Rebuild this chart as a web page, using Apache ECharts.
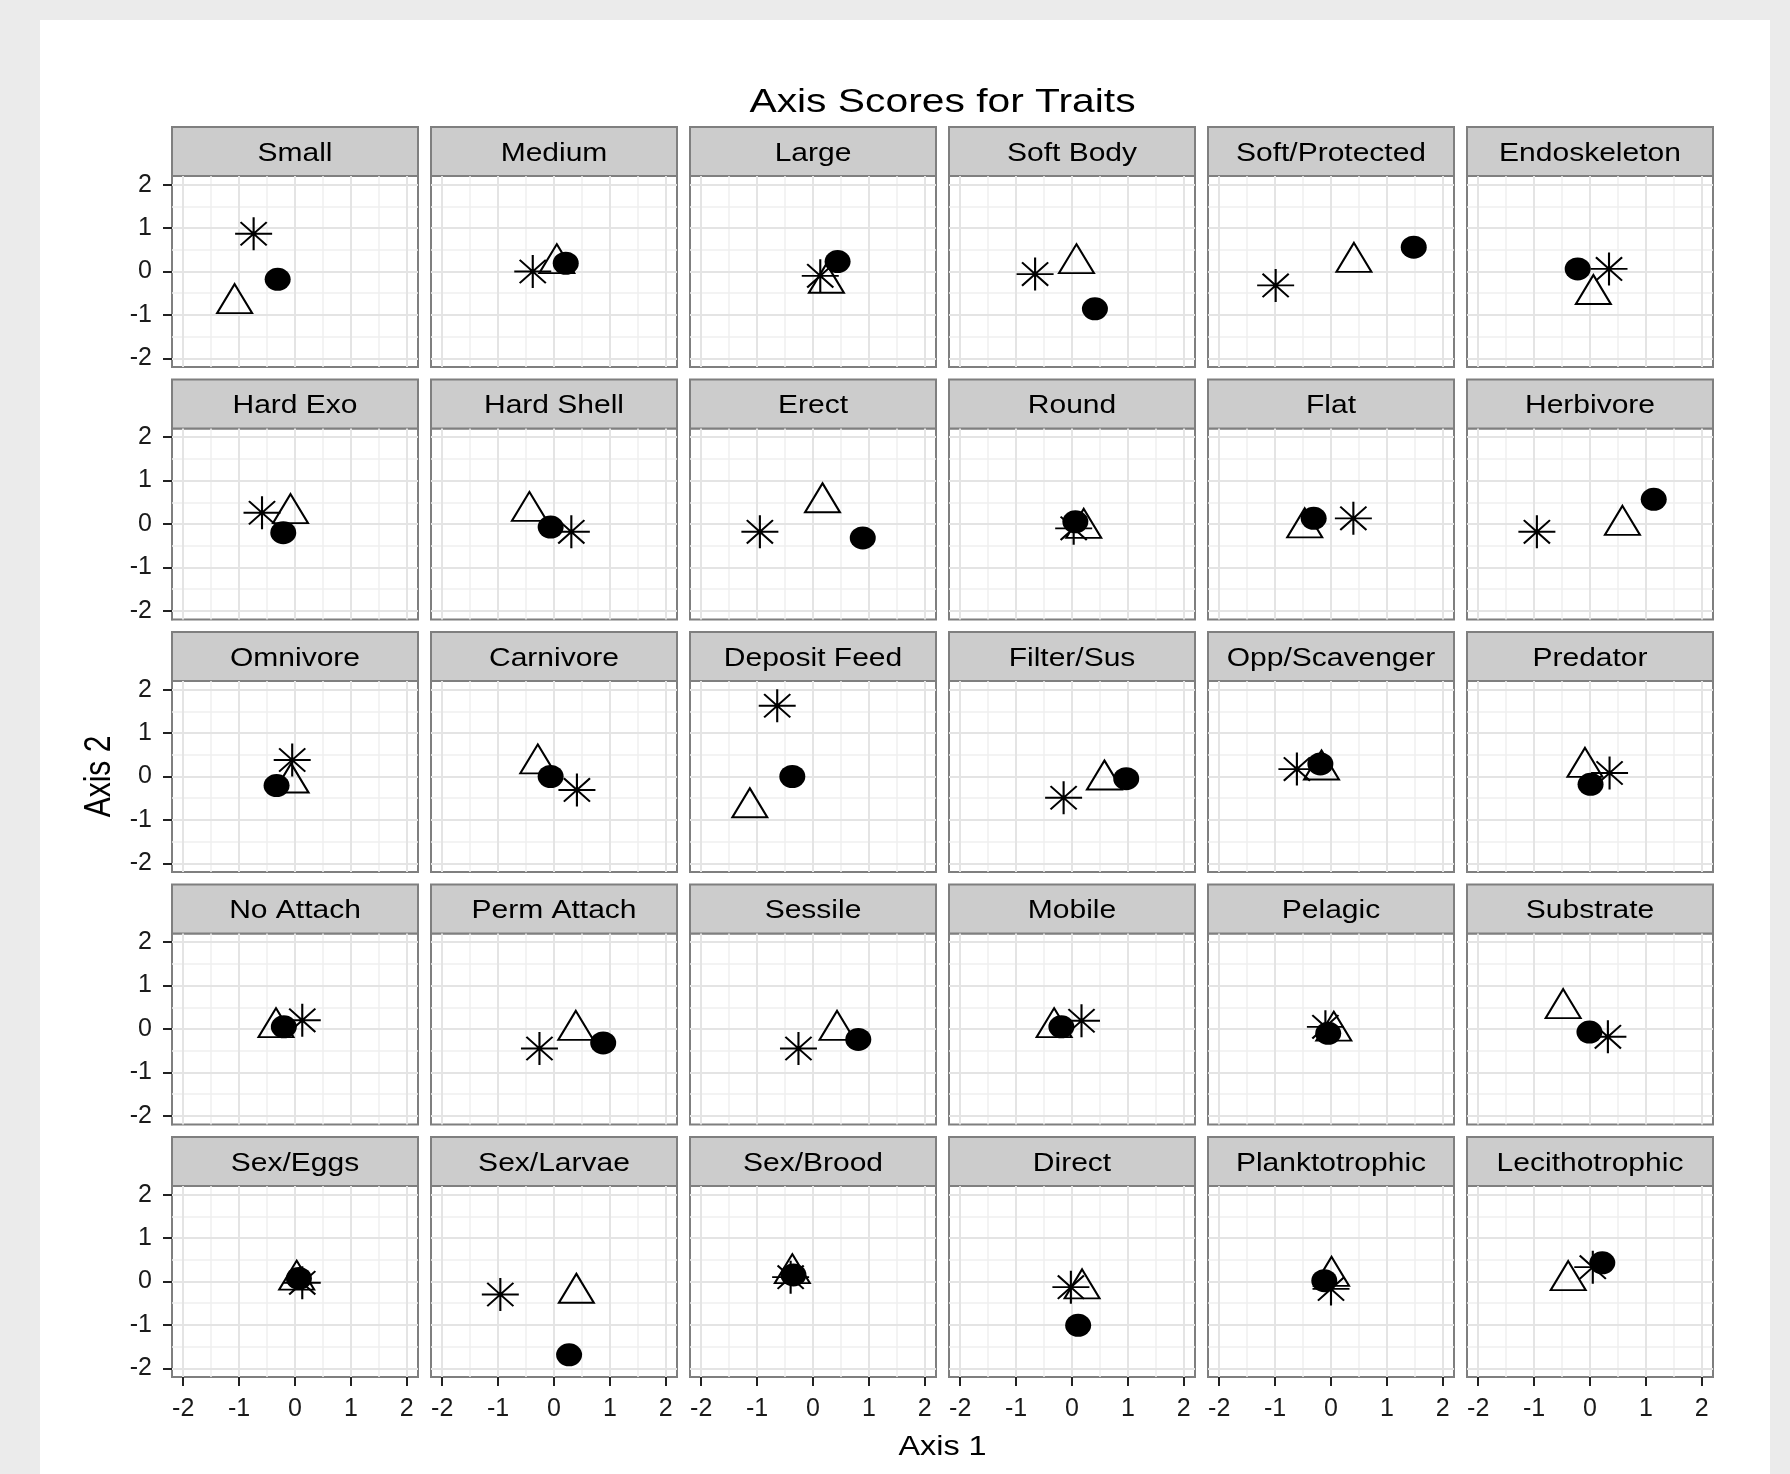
<!DOCTYPE html>
<html>
<head>
<meta charset="utf-8">
<title>Axis Scores for Traits</title>
<script src="https://cdn.jsdelivr.net/npm/echarts@6/dist/echarts.min.js"></script>
<style>
  html, body { margin: 0; padding: 0; background: #ebebeb; }
  #chart { width: 1790px; height: 1474px; }
</style>
</head>
<body>
<div id="chart"></div>
<script>
// Trait facets, in reading order (6 per row)
const panelNames = [
  'Small', 'Medium', 'Large', 'Soft Body', 'Soft/Protected', 'Endoskeleton',
  'Hard Exo', 'Hard Shell', 'Erect', 'Round', 'Flat', 'Herbivore',
  'Omnivore', 'Carnivore', 'Deposit Feed', 'Filter/Sus', 'Opp/Scavenger', 'Predator',
  'No Attach', 'Perm Attach', 'Sessile', 'Mobile', 'Pelagic', 'Substrate',
  'Sex/Eggs', 'Sex/Larvae', 'Sex/Brood', 'Direct', 'Planktotrophic', 'Lecithotrophic'
];

// Axis 1 / Axis 2 scores of the three groups for each trait
const starX = [-0.74, -0.38, 0.13, -0.66, -0.99, 0.34,  -0.59, 0.31, -0.95, 0.03, 0.40, -0.95,
               -0.05, 0.41, -0.64, -0.15, -0.61, 0.35,   0.13, -0.26, -0.26, 0.17, -0.10, 0.32,
                0.13, -0.96, -0.40, -0.02, 0.00, 0.05];
const starY = [0.87, 0.00, -0.10, -0.06, -0.32, 0.06,   0.26, -0.18, -0.18, -0.10, 0.13, -0.18,
               0.38, -0.31, 1.63, -0.49, 0.17, 0.08,    0.20, -0.45, -0.45, 0.19, 0.05, -0.18,
              -0.03, -0.30, 0.10, -0.13, -0.17, 0.33];
const triangleX = [-1.08, 0.05, 0.24, 0.08, 0.41, 0.06,  -0.08, -0.44, 0.17, 0.21, -0.47, 0.58,
                   -0.07, -0.29, -1.13, 0.58, -0.17, -0.09, -0.34, 0.39, 0.43, -0.32, 0.05, -0.48,
                    0.03, 0.40, -0.37, 0.18, 0.01, -0.39];
const triangleY = [-0.74, 0.18, -0.27, 0.18, 0.21, -0.53, 0.24, 0.29, 0.49, -0.10, -0.09, -0.03,
                   -0.15, 0.29, -0.72, -0.08, 0.15, 0.21,  0.03, -0.03, -0.03, 0.03, -0.05, 0.47,
                    0.03, -0.27, 0.18, -0.17, 0.12, 0.02];
const dotX = [-0.31, 0.21, 0.44, 0.41, 1.48, -0.22,  -0.21, -0.06, 0.89, 0.06, -0.31, 1.14,
              -0.33, -0.06, -0.37, 0.97, -0.19, 0.01,  -0.20, 0.88, 0.81, -0.19, -0.05, -0.01,
               0.07, 0.27, -0.35, 0.11, -0.12, 0.22];
const dotY = [-0.18, 0.19, 0.23, -0.86, 0.56, 0.06,   -0.20, -0.07, -0.32, 0.05, 0.13, 0.57,
              -0.21, 0.00, 0.00, -0.05, 0.29, -0.18,   0.05, -0.32, -0.24, 0.05, -0.10, -0.07,
               0.07, -1.69, 0.15, -1.01, 0.02, 0.43];

// Axis breaks and limits shared by every facet
const tickValues = [-2, -1, 0, 1, 2];
const minorValues = [-1.5, -0.5, 0.5, 1.5];
const axisLimits = [-2.2, 2.2];

const chartTitle = 'Axis Scores for Traits';
const xTitle = 'Axis 1';
const yTitle = 'Axis 2';

// ---- layout ----
const COLS = 6;
const ROWS = Math.ceil(panelNames.length / COLS);
const PANEL_W = 246, PANEL_H = 191, STRIP_H = 49;
const LEFT0 = 172, TOP0 = 176, COL_STEP = 259, ROW_STEP = 252.5;
const FONT = '"Liberation Sans", Arial, Helvetica, sans-serif';
const STRETCH = 1.2;   // text in this figure is set wide

const STAR_PATH = 'path://M0,-14.14L0,14.14M-14.14,0L14.14,0M-10,-10L10,10M-10,10L10,-10';

const majorLine = { color: '#e4e4e4', width: 2, type: 'solid' };
const minorLine = { color: '#efefef', width: 1.5, type: 'solid' };

function makeAxis(i, labelled) {
  return {
    type: 'value',
    gridIndex: i,
    min: axisLimits[0],
    max: axisLimits[1],
    axisLine: { show: labelled, onZero: false, lineStyle: { color: '#7f7f7f', width: 2 } },
    axisTick: {
      show: labelled, customValues: tickValues, length: 9, inside: false,
      lineStyle: { color: '#222', width: 2 }
    },
    axisLabel: {
      show: labelled, customValues: tickValues, margin: 20,
      fontSize: 25, fontFamily: FONT, color: '#1a1a1a'
    },
    splitLine: { show: false },
    minorSplitLine: { show: false }
  };
}

const gridLineData = [].concat(
  minorValues.map(v => ({ xAxis: v, lineStyle: minorLine })),
  minorValues.map(v => ({ yAxis: v, lineStyle: minorLine })),
  tickValues.map(v => ({ xAxis: v, lineStyle: majorLine })),
  tickValues.map(v => ({ yAxis: v, lineStyle: majorLine }))
);

const grids = [], xAxes = [], yAxes = [], series = [];
const graphics = [
  { type: 'rect', z: -10, silent: true,
    shape: { x: 40, y: 20, width: 1730, height: 1454 },
    style: { fill: '#ffffff' } },
  { type: 'text', silent: true, x: 942.5, y: 102.5, scaleX: STRETCH,
    style: { text: chartTitle, font: '34px ' + FONT, fill: '#000',
             align: 'center', verticalAlign: 'middle' } },
  { type: 'text', silent: true, x: 942.5, y: 1448, scaleX: STRETCH,
    style: { text: xTitle, font: '27px ' + FONT, fill: '#000',
             align: 'center', verticalAlign: 'middle' } },
  { type: 'text', silent: true, x: 100, y: 776.5, rotation: Math.PI / 2, scaleY: STRETCH,
    style: { text: yTitle, font: '30px ' + FONT, fill: '#000',
             align: 'center', verticalAlign: 'middle' } }
];

panelNames.forEach((name, i) => {
  const r = Math.floor(i / COLS), c = i % COLS;
  const left = LEFT0 + c * COL_STEP;
  const top = TOP0 + r * ROW_STEP;

  grids.push({
    left: left, top: top, width: PANEL_W, height: PANEL_H,
    show: true, backgroundColor: '#ffffff',
    borderColor: '#7f7f7f', borderWidth: 2,
    containLabel: false, outerBoundsMode: 'none'
  });
  xAxes.push(makeAxis(i, r === ROWS - 1));
  yAxes.push(makeAxis(i, c === 0));

  // facet strip
  graphics.push({
    type: 'rect', silent: true,
    shape: { x: left, y: top - STRIP_H, width: PANEL_W, height: STRIP_H },
    style: { fill: '#cccccc', stroke: '#7f7f7f', lineWidth: 2 }
  });
  graphics.push({
    type: 'text', silent: true, x: left + PANEL_W / 2, y: top - STRIP_H + 27, scaleX: STRETCH,
    style: { text: name, font: '25px ' + FONT, fill: '#000',
             align: 'center', verticalAlign: 'middle' }
  });

  // background grid lines
  series.push({
    type: 'scatter', xAxisIndex: i, yAxisIndex: i, data: [], silent: true, z: 1,
    markLine: {
      silent: true, symbol: ['none', 'none'], label: { show: false },
      animation: false, z: 1, data: gridLineData
    }
  });

  series.push({
    type: 'scatter', name: 'star', xAxisIndex: i, yAxisIndex: i, silent: true, z: 2,
    data: [[starX[i], starY[i]]],
    symbol: STAR_PATH, symbolSize: [37, 33],
    itemStyle: { color: 'rgba(0,0,0,0)', borderColor: '#000', borderWidth: 2, opacity: 1 }
  });
  series.push({
    type: 'scatter', name: 'triangle', xAxisIndex: i, yAxisIndex: i, silent: true, z: 3,
    data: [[triangleX[i], triangleY[i]]],
    symbol: 'triangle', symbolSize: [35, 29], symbolOffset: [0, -5],
    itemStyle: { color: 'rgba(0,0,0,0)', borderColor: '#000', borderWidth: 2, opacity: 1 }
  });
  series.push({
    type: 'scatter', name: 'dot', xAxisIndex: i, yAxisIndex: i, silent: true, z: 4,
    data: [[dotX[i], dotY[i]]],
    symbol: 'circle', symbolSize: [26, 23],
    itemStyle: { color: '#000', borderColor: '#000', borderWidth: 0, opacity: 1 }
  });
});

const chart = echarts.init(document.getElementById('chart'), null, { renderer: 'canvas' });
chart.setOption({
  backgroundColor: '#ebebeb',
  animation: false,
  grid: grids,
  xAxis: xAxes,
  yAxis: yAxes,
  series: series,
  graphic: { elements: graphics }
});
</script>
</body>
</html>
